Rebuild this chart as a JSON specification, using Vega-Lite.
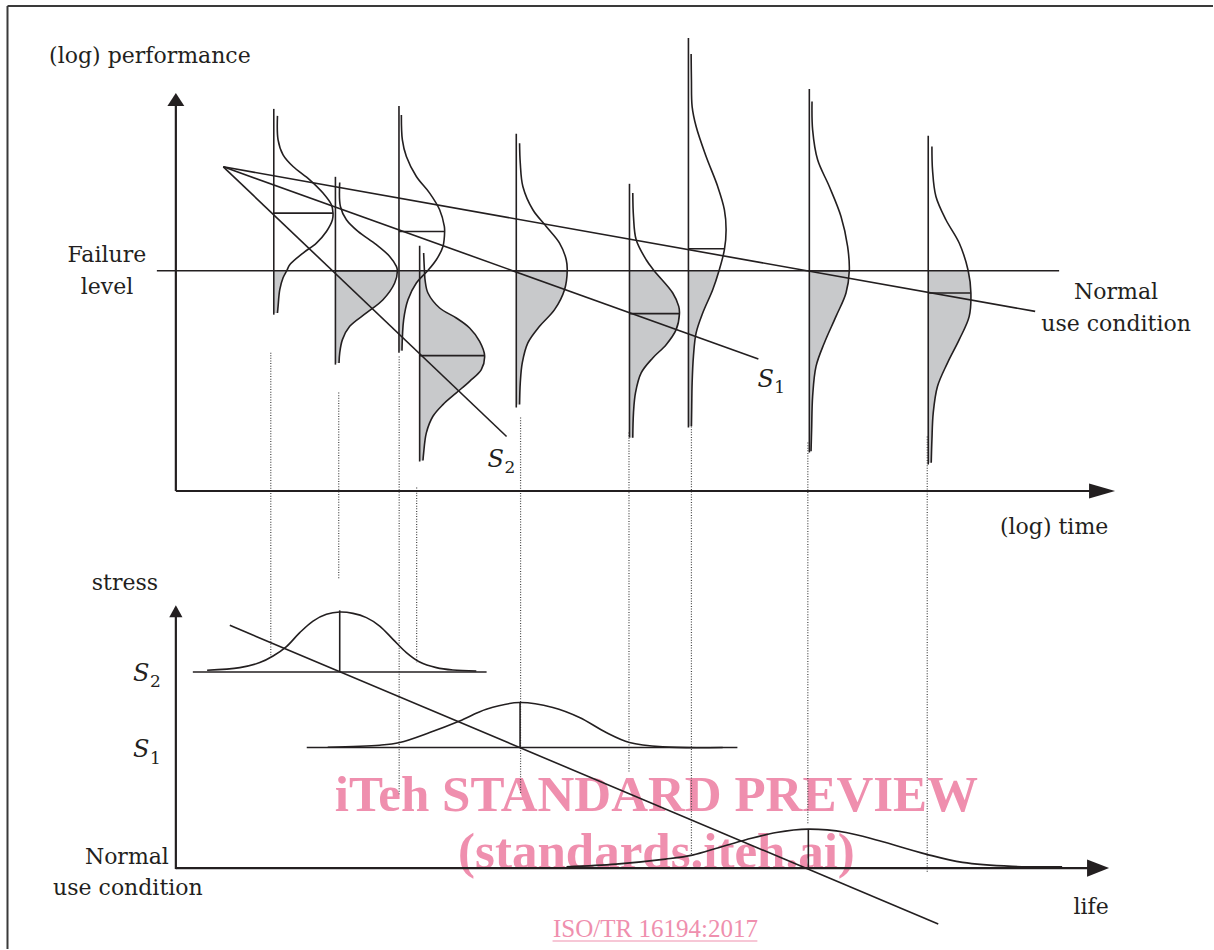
{
  "$schema": "https://vega.github.io/schema/vega-lite/v6.json",
  "width": 1214,
  "height": 950,
  "padding": 0,
  "autosize": {"type": "fit", "contains": "padding"},
  "background": "white",
  "config": {"view": {"stroke": null}},
  "datasets": {
    "perf": [
      {"id": "d1", "base": 274, "i": 1, "x": 277.7, "y": 116}, {"id": "d1", "base": 274, "i": 2, "x": 278.3, "y": 140}, {"id": "d1", "base": 274, "i": 3, "x": 283.3, "y": 155}, {"id": "d1", "base": 274, "i": 4, "x": 293.3, "y": 166.7}, {"id": "d1", "base": 274, "i": 5, "x": 310, "y": 180}, {"id": "d1", "base": 274, "i": 6, "x": 323.3, "y": 193.3}, {"id": "d1", "base": 274, "i": 7, "x": 331.7, "y": 205}, {"id": "d1", "base": 274, "i": 8, "x": 333.3, "y": 213.3}, {"id": "d1", "base": 274, "i": 9, "x": 332.7, "y": 220}, {"id": "d1", "base": 274, "i": 10, "x": 326.7, "y": 231.7}, {"id": "d1", "base": 274, "i": 11, "x": 316.7, "y": 243.3}, {"id": "d1", "base": 274, "i": 12, "x": 303.3, "y": 253.3}, {"id": "d1", "base": 274, "i": 13, "x": 290, "y": 265}, {"id": "d1", "base": 274, "i": 14, "x": 287, "y": 271}, {"id": "d1", "base": 274, "i": 15, "x": 283.3, "y": 278}, {"id": "d1", "base": 274, "i": 16, "x": 280, "y": 290}, {"id": "d1", "base": 274, "i": 17, "x": 278.3, "y": 306.7}, {"id": "d1", "base": 274, "i": 18, "x": 277.7, "y": 313.3},
      {"id": "d2", "base": 335.7, "i": 1, "x": 340, "y": 182.7}, {"id": "d2", "base": 335.7, "i": 2, "x": 340.7, "y": 206.7}, {"id": "d2", "base": 335.7, "i": 3, "x": 346.7, "y": 220}, {"id": "d2", "base": 335.7, "i": 4, "x": 358.3, "y": 231.7}, {"id": "d2", "base": 335.7, "i": 5, "x": 376.7, "y": 245}, {"id": "d2", "base": 335.7, "i": 6, "x": 390, "y": 256.7}, {"id": "d2", "base": 335.7, "i": 7, "x": 396.7, "y": 266.7}, {"id": "d2", "base": 335.7, "i": 8, "x": 397.7, "y": 271}, {"id": "d2", "base": 335.7, "i": 9, "x": 395, "y": 283.3}, {"id": "d2", "base": 335.7, "i": 10, "x": 383.3, "y": 300}, {"id": "d2", "base": 335.7, "i": 11, "x": 366.7, "y": 313.3}, {"id": "d2", "base": 335.7, "i": 12, "x": 350, "y": 326.7}, {"id": "d2", "base": 335.7, "i": 13, "x": 342.7, "y": 340}, {"id": "d2", "base": 335.7, "i": 14, "x": 340, "y": 353.3}, {"id": "d2", "base": 335.7, "i": 15, "x": 339.3, "y": 363.3},
      {"id": "d3", "base": 399.3, "i": 1, "x": 401.7, "y": 115}, {"id": "d3", "base": 399.3, "i": 2, "x": 402.7, "y": 140}, {"id": "d3", "base": 399.3, "i": 3, "x": 406.7, "y": 156.7}, {"id": "d3", "base": 399.3, "i": 4, "x": 416.7, "y": 176.7}, {"id": "d3", "base": 399.3, "i": 5, "x": 430, "y": 193.3}, {"id": "d3", "base": 399.3, "i": 6, "x": 440, "y": 210}, {"id": "d3", "base": 399.3, "i": 7, "x": 444.7, "y": 226.7}, {"id": "d3", "base": 399.3, "i": 8, "x": 445, "y": 231.7}, {"id": "d3", "base": 399.3, "i": 9, "x": 443.3, "y": 246.7}, {"id": "d3", "base": 399.3, "i": 10, "x": 436.7, "y": 260}, {"id": "d3", "base": 399.3, "i": 11, "x": 428, "y": 271}, {"id": "d3", "base": 399.3, "i": 12, "x": 416.7, "y": 283.3}, {"id": "d3", "base": 399.3, "i": 13, "x": 408.3, "y": 300}, {"id": "d3", "base": 399.3, "i": 14, "x": 404, "y": 320}, {"id": "d3", "base": 399.3, "i": 15, "x": 402.3, "y": 351},
      {"id": "d4", "base": 420, "i": 1, "x": 424, "y": 253.3}, {"id": "d4", "base": 420, "i": 2, "x": 424.8, "y": 271}, {"id": "d4", "base": 420, "i": 3, "x": 425.5, "y": 281}, {"id": "d4", "base": 420, "i": 4, "x": 428.3, "y": 293.3}, {"id": "d4", "base": 420, "i": 5, "x": 440, "y": 308.3}, {"id": "d4", "base": 420, "i": 6, "x": 456.7, "y": 318.3}, {"id": "d4", "base": 420, "i": 7, "x": 470, "y": 328.3}, {"id": "d4", "base": 420, "i": 8, "x": 480, "y": 341.7}, {"id": "d4", "base": 420, "i": 9, "x": 485, "y": 356}, {"id": "d4", "base": 420, "i": 10, "x": 481.7, "y": 370}, {"id": "d4", "base": 420, "i": 11, "x": 470, "y": 381.7}, {"id": "d4", "base": 420, "i": 12, "x": 456.7, "y": 393.3}, {"id": "d4", "base": 420, "i": 13, "x": 443.3, "y": 405}, {"id": "d4", "base": 420, "i": 14, "x": 433.3, "y": 416.7}, {"id": "d4", "base": 420, "i": 15, "x": 426.7, "y": 433.3}, {"id": "d4", "base": 420, "i": 16, "x": 424, "y": 453.3}, {"id": "d4", "base": 420, "i": 17, "x": 423.3, "y": 461},
      {"id": "d5", "base": 516.7, "i": 1, "x": 520, "y": 143.3}, {"id": "d5", "base": 516.7, "i": 2, "x": 520.7, "y": 163.3}, {"id": "d5", "base": 516.7, "i": 3, "x": 523.3, "y": 186.7}, {"id": "d5", "base": 516.7, "i": 4, "x": 533.3, "y": 210}, {"id": "d5", "base": 516.7, "i": 5, "x": 546.7, "y": 226.7}, {"id": "d5", "base": 516.7, "i": 6, "x": 560, "y": 243.3}, {"id": "d5", "base": 516.7, "i": 7, "x": 566.7, "y": 260}, {"id": "d5", "base": 516.7, "i": 8, "x": 567.7, "y": 271}, {"id": "d5", "base": 516.7, "i": 9, "x": 565, "y": 290}, {"id": "d5", "base": 516.7, "i": 10, "x": 555, "y": 310}, {"id": "d5", "base": 516.7, "i": 11, "x": 540, "y": 326.7}, {"id": "d5", "base": 516.7, "i": 12, "x": 528.3, "y": 343.3}, {"id": "d5", "base": 516.7, "i": 13, "x": 522.7, "y": 363.3}, {"id": "d5", "base": 516.7, "i": 14, "x": 520.7, "y": 383.3}, {"id": "d5", "base": 516.7, "i": 15, "x": 520, "y": 405},
      {"id": "d6", "base": 630, "i": 1, "x": 633.3, "y": 193.3}, {"id": "d6", "base": 630, "i": 2, "x": 634, "y": 216.7}, {"id": "d6", "base": 630, "i": 3, "x": 636.7, "y": 240}, {"id": "d6", "base": 630, "i": 4, "x": 646.7, "y": 260}, {"id": "d6", "base": 630, "i": 5, "x": 654.7, "y": 271}, {"id": "d6", "base": 630, "i": 6, "x": 673.3, "y": 293.3}, {"id": "d6", "base": 630, "i": 7, "x": 679.3, "y": 306.7}, {"id": "d6", "base": 630, "i": 8, "x": 680, "y": 314}, {"id": "d6", "base": 630, "i": 9, "x": 676.7, "y": 330}, {"id": "d6", "base": 630, "i": 10, "x": 666.7, "y": 345}, {"id": "d6", "base": 630, "i": 11, "x": 653.3, "y": 358.3}, {"id": "d6", "base": 630, "i": 12, "x": 641.7, "y": 373.3}, {"id": "d6", "base": 630, "i": 13, "x": 636, "y": 393.3}, {"id": "d6", "base": 630, "i": 14, "x": 634, "y": 413.3}, {"id": "d6", "base": 630, "i": 15, "x": 633.3, "y": 438.3},
      {"id": "d7", "base": 689, "i": 1, "x": 691.7, "y": 54}, {"id": "d7", "base": 689, "i": 2, "x": 692, "y": 80}, {"id": "d7", "base": 689, "i": 3, "x": 692.7, "y": 106.7}, {"id": "d7", "base": 689, "i": 4, "x": 696.7, "y": 126.7}, {"id": "d7", "base": 689, "i": 5, "x": 706.7, "y": 156.7}, {"id": "d7", "base": 689, "i": 6, "x": 718.3, "y": 186.7}, {"id": "d7", "base": 689, "i": 7, "x": 725, "y": 210}, {"id": "d7", "base": 689, "i": 8, "x": 726.7, "y": 230}, {"id": "d7", "base": 689, "i": 9, "x": 725, "y": 250}, {"id": "d7", "base": 689, "i": 10, "x": 719.6, "y": 271}, {"id": "d7", "base": 689, "i": 11, "x": 713.3, "y": 290}, {"id": "d7", "base": 689, "i": 12, "x": 703.3, "y": 313.3}, {"id": "d7", "base": 689, "i": 13, "x": 696.7, "y": 333.3}, {"id": "d7", "base": 689, "i": 14, "x": 694, "y": 356.7}, {"id": "d7", "base": 689, "i": 15, "x": 692.7, "y": 383.3}, {"id": "d7", "base": 689, "i": 16, "x": 692.3, "y": 406.7}, {"id": "d7", "base": 689, "i": 17, "x": 692, "y": 426.7},
      {"id": "d8", "base": 810, "i": 1, "x": 812.7, "y": 101.7}, {"id": "d8", "base": 810, "i": 2, "x": 813.3, "y": 130}, {"id": "d8", "base": 810, "i": 3, "x": 818.3, "y": 160}, {"id": "d8", "base": 810, "i": 4, "x": 830, "y": 186.7}, {"id": "d8", "base": 810, "i": 5, "x": 841.7, "y": 216.7}, {"id": "d8", "base": 810, "i": 6, "x": 848.3, "y": 246.7}, {"id": "d8", "base": 810, "i": 7, "x": 850, "y": 271}, {"id": "d8", "base": 810, "i": 8, "x": 846.7, "y": 293.3}, {"id": "d8", "base": 810, "i": 9, "x": 836.7, "y": 316.7}, {"id": "d8", "base": 810, "i": 10, "x": 825, "y": 343.3}, {"id": "d8", "base": 810, "i": 11, "x": 816.7, "y": 366.7}, {"id": "d8", "base": 810, "i": 12, "x": 813.3, "y": 396.7}, {"id": "d8", "base": 810, "i": 13, "x": 812.3, "y": 430}, {"id": "d8", "base": 810, "i": 14, "x": 811.7, "y": 451.7},
      {"id": "d9", "base": 929, "i": 1, "x": 932.7, "y": 146.7}, {"id": "d9", "base": 929, "i": 2, "x": 933.3, "y": 170}, {"id": "d9", "base": 929, "i": 3, "x": 936.7, "y": 196.7}, {"id": "d9", "base": 929, "i": 4, "x": 946.7, "y": 220}, {"id": "d9", "base": 929, "i": 5, "x": 960, "y": 243.3}, {"id": "d9", "base": 929, "i": 6, "x": 969, "y": 271}, {"id": "d9", "base": 929, "i": 7, "x": 971.7, "y": 293.3}, {"id": "d9", "base": 929, "i": 8, "x": 970, "y": 316.7}, {"id": "d9", "base": 929, "i": 9, "x": 960, "y": 340}, {"id": "d9", "base": 929, "i": 10, "x": 948.3, "y": 363.3}, {"id": "d9", "base": 929, "i": 11, "x": 938.3, "y": 386.7}, {"id": "d9", "base": 929, "i": 12, "x": 934, "y": 413.3}, {"id": "d9", "base": 929, "i": 13, "x": 932.7, "y": 440}, {"id": "d9", "base": 929, "i": 14, "x": 932, "y": 463.3}
    ],
    "dists": [
      {"id": "d1", "base": 274, "top": 109, "bottom": 315, "meanY": 213.3, "meanX": 333.3},
      {"id": "d2", "base": 335.7, "top": 177, "bottom": 365, "meanY": 271, "meanX": 397.7},
      {"id": "d3", "base": 399.3, "top": 106, "bottom": 353, "meanY": 231.7, "meanX": 445},
      {"id": "d4", "base": 420, "top": 246, "bottom": 462, "meanY": 356, "meanX": 485},
      {"id": "d5", "base": 516.7, "top": 134, "bottom": 408, "meanY": 271, "meanX": 567.7},
      {"id": "d6", "base": 630, "top": 184, "bottom": 438, "meanY": 314, "meanX": 680},
      {"id": "d7", "base": 689, "top": 38, "bottom": 428, "meanY": 249, "meanX": 725},
      {"id": "d8", "base": 810, "top": 89, "bottom": 453, "meanY": 271, "meanX": 850},
      {"id": "d9", "base": 929, "top": 136, "bottom": 465, "meanY": 293.3, "meanX": 971.7}
    ],
    "stressCurves": [
      {"id": "b2", "i": 1, "x": 207.3, "y": 671}, {"id": "b2", "i": 2, "x": 240, "y": 668.3}, {"id": "b2", "i": 3, "x": 260, "y": 663.3}, {"id": "b2", "i": 4, "x": 273.3, "y": 656.7}, {"id": "b2", "i": 5, "x": 286.7, "y": 647.3}, {"id": "b2", "i": 6, "x": 300, "y": 633.3}, {"id": "b2", "i": 7, "x": 313.3, "y": 621.7}, {"id": "b2", "i": 8, "x": 326.7, "y": 615}, {"id": "b2", "i": 9, "x": 340, "y": 612.7}, {"id": "b2", "i": 10, "x": 353.3, "y": 614}, {"id": "b2", "i": 11, "x": 366.7, "y": 618.3}, {"id": "b2", "i": 12, "x": 380, "y": 626.7}, {"id": "b2", "i": 13, "x": 393.3, "y": 640}, {"id": "b2", "i": 14, "x": 406.7, "y": 653.3}, {"id": "b2", "i": 15, "x": 420, "y": 662.7}, {"id": "b2", "i": 16, "x": 436.7, "y": 668.3}, {"id": "b2", "i": 17, "x": 453.3, "y": 670.7}, {"id": "b2", "i": 18, "x": 476.7, "y": 671.7},
      {"id": "b1", "i": 1, "x": 328, "y": 748}, {"id": "b1", "i": 2, "x": 380, "y": 746}, {"id": "b1", "i": 3, "x": 400, "y": 743.3}, {"id": "b1", "i": 4, "x": 430, "y": 733.3}, {"id": "b1", "i": 5, "x": 460, "y": 721.7}, {"id": "b1", "i": 6, "x": 486.7, "y": 710}, {"id": "b1", "i": 7, "x": 520, "y": 703.3}, {"id": "b1", "i": 8, "x": 553.3, "y": 708.3}, {"id": "b1", "i": 9, "x": 580, "y": 718.3}, {"id": "b1", "i": 10, "x": 606.7, "y": 733.3}, {"id": "b1", "i": 11, "x": 630, "y": 743.3}, {"id": "b1", "i": 12, "x": 663.3, "y": 747.7}, {"id": "b1", "i": 13, "x": 723.3, "y": 748.3},
      {"id": "bn", "i": 1, "x": 567, "y": 867.7}, {"id": "bn", "i": 2, "x": 616.5, "y": 865}, {"id": "bn", "i": 3, "x": 666, "y": 860}, {"id": "bn", "i": 4, "x": 693, "y": 856}, {"id": "bn", "i": 5, "x": 720, "y": 848.3}, {"id": "bn", "i": 6, "x": 746.5, "y": 840.7}, {"id": "bn", "i": 7, "x": 777, "y": 833.3}, {"id": "bn", "i": 8, "x": 809, "y": 830}, {"id": "bn", "i": 9, "x": 846.7, "y": 833.3}, {"id": "bn", "i": 10, "x": 880, "y": 841.7}, {"id": "bn", "i": 11, "x": 926.7, "y": 855}, {"id": "bn", "i": 12, "x": 963.3, "y": 863.3}, {"id": "bn", "i": 13, "x": 1013, "y": 867.3}, {"id": "bn", "i": 14, "x": 1063, "y": 867.7}
    ],
    "lines": [
      {"x": 157, "y": 271, "x2": 1060, "y2": 271},
      {"x": 223.5, "y": 167, "x2": 1036, "y2": 311.7},
      {"x": 223.5, "y": 167, "x2": 759, "y2": 359.3},
      {"x": 223.5, "y": 167, "x2": 507, "y2": 437},
      {"x": 193, "y": 672.7, "x2": 487, "y2": 672.7},
      {"x": 307, "y": 748.3, "x2": 738, "y2": 748.3},
      {"x": 230, "y": 626, "x2": 939, "y2": 925},
      {"x": 340, "y": 611, "x2": 340, "y2": 672.7},
      {"x": 520.5, "y": 703, "x2": 520.5, "y2": 748.3},
      {"x": 809, "y": 830, "x2": 809, "y2": 869}
    ],
    "axes": [
      {"x": 176, "y": 491.5, "x2": 176, "y2": 104},
      {"x": 176, "y": 491.5, "x2": 1092, "y2": 491.5},
      {"x": 176, "y": 870, "x2": 176, "y2": 616},
      {"x": 176, "y": 869, "x2": 1090, "y2": 869}
    ],
    "border": [
      {"x": 7.5, "y": 6, "x2": 1214, "y2": 6},
      {"x": 7.5, "y": 6, "x2": 7.5, "y2": 950}
    ],
    "dotted": [
      {"x": 271, "y": 353, "x2": 271, "y2": 657},
      {"x": 339, "y": 393, "x2": 339, "y2": 580},
      {"x": 399.5, "y": 357, "x2": 399.5, "y2": 795},
      {"x": 417, "y": 488, "x2": 417, "y2": 663},
      {"x": 521, "y": 418, "x2": 521, "y2": 795},
      {"x": 629.5, "y": 433, "x2": 629.5, "y2": 773},
      {"x": 692, "y": 427, "x2": 692, "y2": 857},
      {"x": 808.5, "y": 443, "x2": 808.5, "y2": 825},
      {"x": 928, "y": 437, "x2": 928, "y2": 874}
    ],
    "labels": [
      {"x": 150, "y": 63, "t": "(log) performance"},
      {"x": 107, "y": 262, "t": "Failure"},
      {"x": 107, "y": 294, "t": "level"},
      {"x": 1117, "y": 299, "t": "Normal"},
      {"x": 1117, "y": 331, "t": "use condition"},
      {"x": 1055, "y": 535, "t": "(log) time"},
      {"x": 125, "y": 591, "t": "stress"},
      {"x": 127, "y": 865, "t": "Normal"},
      {"x": 128, "y": 896, "t": "use condition"},
      {"x": 1092, "y": 915, "t": "life"}
    ],
    "sLabels": [
      {"x": 758, "y": 387, "t": "S", "sx": 775, "sy": 393, "sub": "1"},
      {"x": 488, "y": 467, "t": "S", "sx": 505, "sy": 473, "sub": "2"},
      {"x": 133, "y": 682, "t": "S", "sx": 150, "sy": 688, "sub": "2"},
      {"x": 133, "y": 758, "t": "S", "sx": 150, "sy": 765, "sub": "1"}
    ],
    "watermark": [
      {"x": 657, "y": 812, "t": "iTeh STANDARD PREVIEW"},
      {"x": 657, "y": 869, "t": "(standards.iteh.ai)"}
    ]
  },
  "layer": [
    {
      "data": {"name": "border"},
      "mark": {"type": "rule", "color": "#3a3a3a", "strokeWidth": 2},
      "encoding": {
        "x": {"field": "x", "type": "quantitative", "scale": {"domain": [0, 1214], "nice": false, "zero": false}, "axis": null},
        "y": {"field": "y", "type": "quantitative", "scale": {"domain": [0, 950], "nice": false, "zero": false, "reverse": true}, "axis": null},
        "x2": {"field": "x2"},
        "y2": {"field": "y2"}
      }
    },
    {
      "data": {"name": "perf"},
      "transform": [
        {"filter": "datum.y >= 271"}
      ],
      "mark": {"type": "area", "orient": "horizontal", "interpolate": "catmull-rom", "color": "#c8c9cb", "opacity": 1},
      "encoding": {
        "y": {"field": "y", "type": "quantitative", "stack": null},
        "x": {"field": "x", "type": "quantitative", "stack": null},
        "x2": {"field": "base"},
        "detail": {"field": "id", "type": "nominal"}
      }
    },
    {
      "data": {"name": "watermark"},
      "mark": {"type": "text", "font": "Liberation Serif", "fontWeight": "bold", "fontSize": 51, "color": "#ef8fae", "align": "center", "baseline": "alphabetic"},
      "encoding": {
        "x": {"field": "x", "type": "quantitative"},
        "y": {"field": "y", "type": "quantitative"},
        "text": {"field": "t"}
      }
    },
    {
      "data": {"values": [{"x": 656, "y": 938, "t": "ISO/TR 16194:2017"}]},
      "mark": {"type": "text", "font": "Liberation Serif", "fontSize": 25, "color": "#ef8fae", "align": "center", "baseline": "alphabetic"},
      "encoding": {
        "x": {"field": "x", "type": "quantitative"},
        "y": {"field": "y", "type": "quantitative"},
        "text": {"field": "t"}
      }
    },
    {
      "data": {"values": [{"x": 553, "y": 942, "x2": 758, "y2": 942}]},
      "mark": {"type": "rule", "color": "#ef8fae", "strokeWidth": 1.2},
      "encoding": {
        "x": {"field": "x", "type": "quantitative"},
        "y": {"field": "y", "type": "quantitative"},
        "x2": {"field": "x2"},
        "y2": {"field": "y2"}
      }
    },
    {
      "data": {"name": "dotted"},
      "mark": {"type": "rule", "color": "#444444", "strokeWidth": 1.2, "strokeDash": [1, 1.6]},
      "encoding": {
        "x": {"field": "x", "type": "quantitative"},
        "y": {"field": "y", "type": "quantitative"},
        "x2": {"field": "x2"},
        "y2": {"field": "y2"}
      }
    },
    {
      "data": {"name": "dists"},
      "mark": {"type": "rule", "color": "#231f20", "strokeWidth": 1.6},
      "encoding": {
        "x": {"field": "base", "type": "quantitative"},
        "y": {"field": "top", "type": "quantitative"},
        "y2": {"field": "bottom"}
      }
    },
    {
      "data": {"name": "dists"},
      "mark": {"type": "rule", "color": "#231f20", "strokeWidth": 1.6},
      "encoding": {
        "x": {"field": "base", "type": "quantitative"},
        "x2": {"field": "meanX"},
        "y": {"field": "meanY", "type": "quantitative"}
      }
    },
    {
      "data": {"name": "lines"},
      "mark": {"type": "rule", "color": "#231f20", "strokeWidth": 1.6},
      "encoding": {
        "x": {"field": "x", "type": "quantitative"},
        "y": {"field": "y", "type": "quantitative"},
        "x2": {"field": "x2"},
        "y2": {"field": "y2"}
      }
    },
    {
      "data": {"name": "axes"},
      "mark": {"type": "rule", "color": "#231f20", "strokeWidth": 2.2},
      "encoding": {
        "x": {"field": "x", "type": "quantitative"},
        "y": {"field": "y", "type": "quantitative"},
        "x2": {"field": "x2"},
        "y2": {"field": "y2"}
      }
    },
    {
      "data": {"name": "perf"},
      "mark": {"type": "line", "interpolate": "catmull-rom", "color": "#231f20", "strokeWidth": 1.6},
      "encoding": {
        "x": {"field": "x", "type": "quantitative"},
        "y": {"field": "y", "type": "quantitative"},
        "detail": {"field": "id"},
        "order": {"field": "i", "type": "quantitative"}
      }
    },
    {
      "data": {"name": "stressCurves"},
      "mark": {"type": "line", "interpolate": "catmull-rom", "color": "#231f20", "strokeWidth": 1.6},
      "encoding": {
        "x": {"field": "x", "type": "quantitative"},
        "y": {"field": "y", "type": "quantitative"},
        "detail": {"field": "id"},
        "order": {"field": "i", "type": "quantitative"}
      }
    },
    {
      "data": {"values": [{"x": 176, "y": 93}]},
      "mark": {"type": "point", "shape": "M0,0L0.65,1L-0.65,1Z", "size": 676, "filled": true, "color": "#231f20", "opacity": 1, "strokeWidth": 0},
      "encoding": {"x": {"field": "x", "type": "quantitative"}, "y": {"field": "y", "type": "quantitative"}}
    },
    {
      "data": {"values": [{"x": 1116, "y": 491.5}]},
      "mark": {"type": "point", "shape": "M0,0L-1,0.29L-1,-0.29Z", "size": 2704, "filled": true, "color": "#231f20", "opacity": 1, "strokeWidth": 0},
      "encoding": {"x": {"field": "x", "type": "quantitative"}, "y": {"field": "y", "type": "quantitative"}}
    },
    {
      "data": {"values": [{"x": 176, "y": 606}]},
      "mark": {"type": "point", "shape": "M0,0L0.55,1L-0.55,1Z", "size": 576, "filled": true, "color": "#231f20", "opacity": 1, "strokeWidth": 0},
      "encoding": {"x": {"field": "x", "type": "quantitative"}, "y": {"field": "y", "type": "quantitative"}}
    },
    {
      "data": {"values": [{"x": 1110, "y": 869}]},
      "mark": {"type": "point", "shape": "M0,0L-1,0.39L-1,-0.39Z", "size": 1936, "filled": true, "color": "#231f20", "opacity": 1, "strokeWidth": 0},
      "encoding": {"x": {"field": "x", "type": "quantitative"}, "y": {"field": "y", "type": "quantitative"}}
    },
    {
      "data": {"name": "labels"},
      "mark": {"type": "text", "font": "DejaVu Serif", "fontSize": 22, "color": "#231f20", "align": "center", "baseline": "alphabetic"},
      "encoding": {
        "x": {"field": "x", "type": "quantitative"},
        "y": {"field": "y", "type": "quantitative"},
        "text": {"field": "t"}
      }
    },
    {
      "data": {"name": "sLabels"},
      "mark": {"type": "text", "font": "DejaVu Serif", "fontStyle": "italic", "fontSize": 24, "color": "#231f20", "align": "left", "baseline": "alphabetic"},
      "encoding": {
        "x": {"field": "x", "type": "quantitative"},
        "y": {"field": "y", "type": "quantitative"},
        "text": {"field": "t"}
      }
    },
    {
      "data": {"name": "sLabels"},
      "mark": {"type": "text", "font": "DejaVu Serif", "fontSize": 17, "color": "#231f20", "align": "left", "baseline": "alphabetic"},
      "encoding": {
        "x": {"field": "sx", "type": "quantitative"},
        "y": {"field": "sy", "type": "quantitative"},
        "text": {"field": "sub"}
      }
    }
  ]
}
